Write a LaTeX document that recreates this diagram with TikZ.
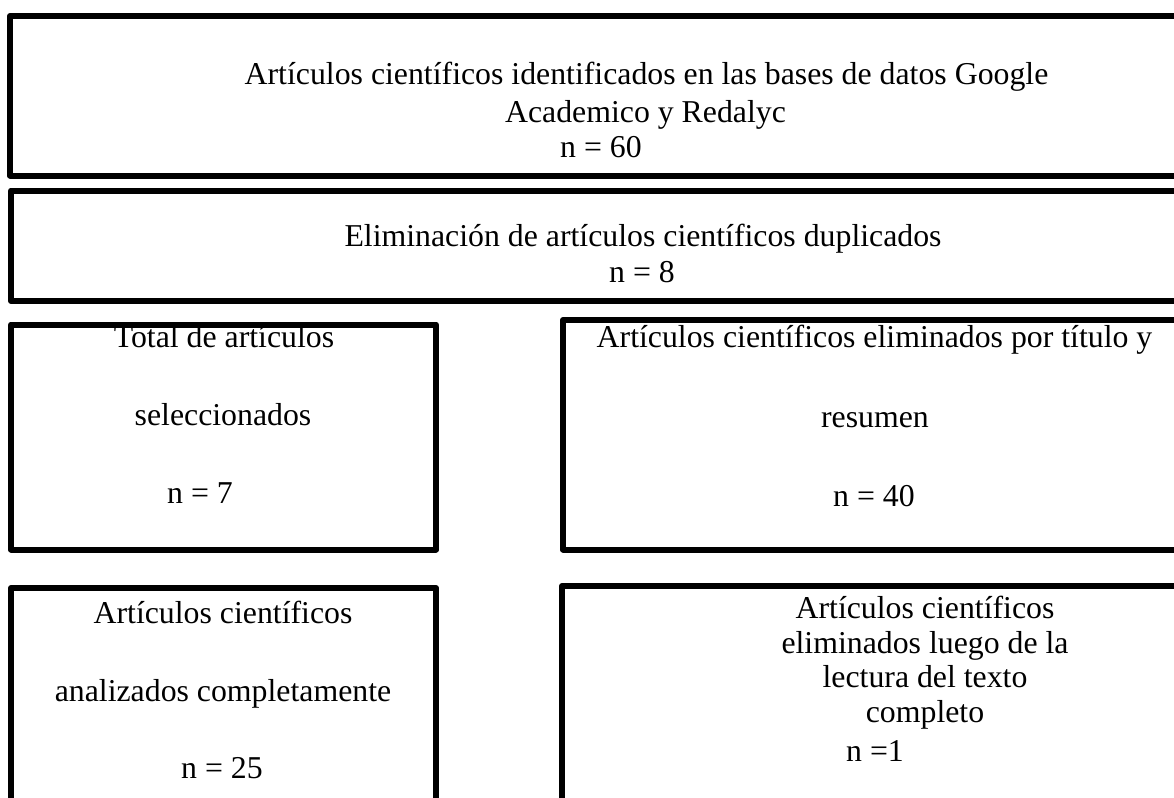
\documentclass[tikz,border=0pt]{standalone}
\usepackage{fontspec}
\setmainfont{Liberation Serif}

\begin{document}
\begin{tikzpicture}[x=1pt, y=-1pt,
    frame/.style={line width=6pt, line join=round},
    txt/.style={anchor=base, inner sep=0pt, font=\fontsize{31.8}{36}\selectfont}]
    \useasboundingbox (0,0) rectangle (1174,797);
    \fill[white] (0,0) rectangle (1174,797);
    \clip (0,0) rectangle (1174,797);

    % boxes, the right and lower ones run off the page
    \draw[frame] (10,16) rectangle (1190,175.5);
    \draw[frame] (11,190.5) rectangle (1190,301);
    \draw[frame] (11,324.5) rectangle (436,549.5);
    \draw[frame] (563,320) rectangle (1190,549.5);
    \draw[frame] (11,588) rectangle (436,815);
    \draw[frame] (562,586) rectangle (1190,815);

    \node[txt] (I1) at (646.5,85) {Artículos científicos identificados en las bases de datos Google};
    \node[txt] (I2) at (645.5,122) {Academico y Redalyc};
    \node[txt] (I3) at (601,157) {n = 60};

    \node[txt] (E1) at (643,246) {Eliminación de artículos científicos duplicados};
    \node[txt] (E2) at (642,282) {n = 8};

    \node[txt] (S1) at (224,347) {Total de artículos};
    \node[txt] (S2) at (223,425) {seleccionados};
    \node[txt] (S3) at (200,503) {n = 7};

    \node[txt] (R1) at (874.5,347) {Artículos científicos eliminados por título y};
    \node[txt] (R2) at (875,427) {resumen};
    \node[txt] (R3) at (874,506) {n = 40};

    \node[txt] (A1) at (223,623) {Artículos científicos};
    \node[txt] (A2) at (223,701) {analizados completamente};
    \node[txt] (A3) at (222,778) {n = 25};

    \node[txt] (L1) at (925,618) {Artículos científicos};
    \node[txt] (L2) at (925,653) {eliminados luego de la};
    \node[txt] (L3) at (925,687) {lectura del texto};
    \node[txt] (L4) at (925,722) {completo};
    \node[txt] (L5) at (875,761) {n =1};
\end{tikzpicture}
\end{document}
